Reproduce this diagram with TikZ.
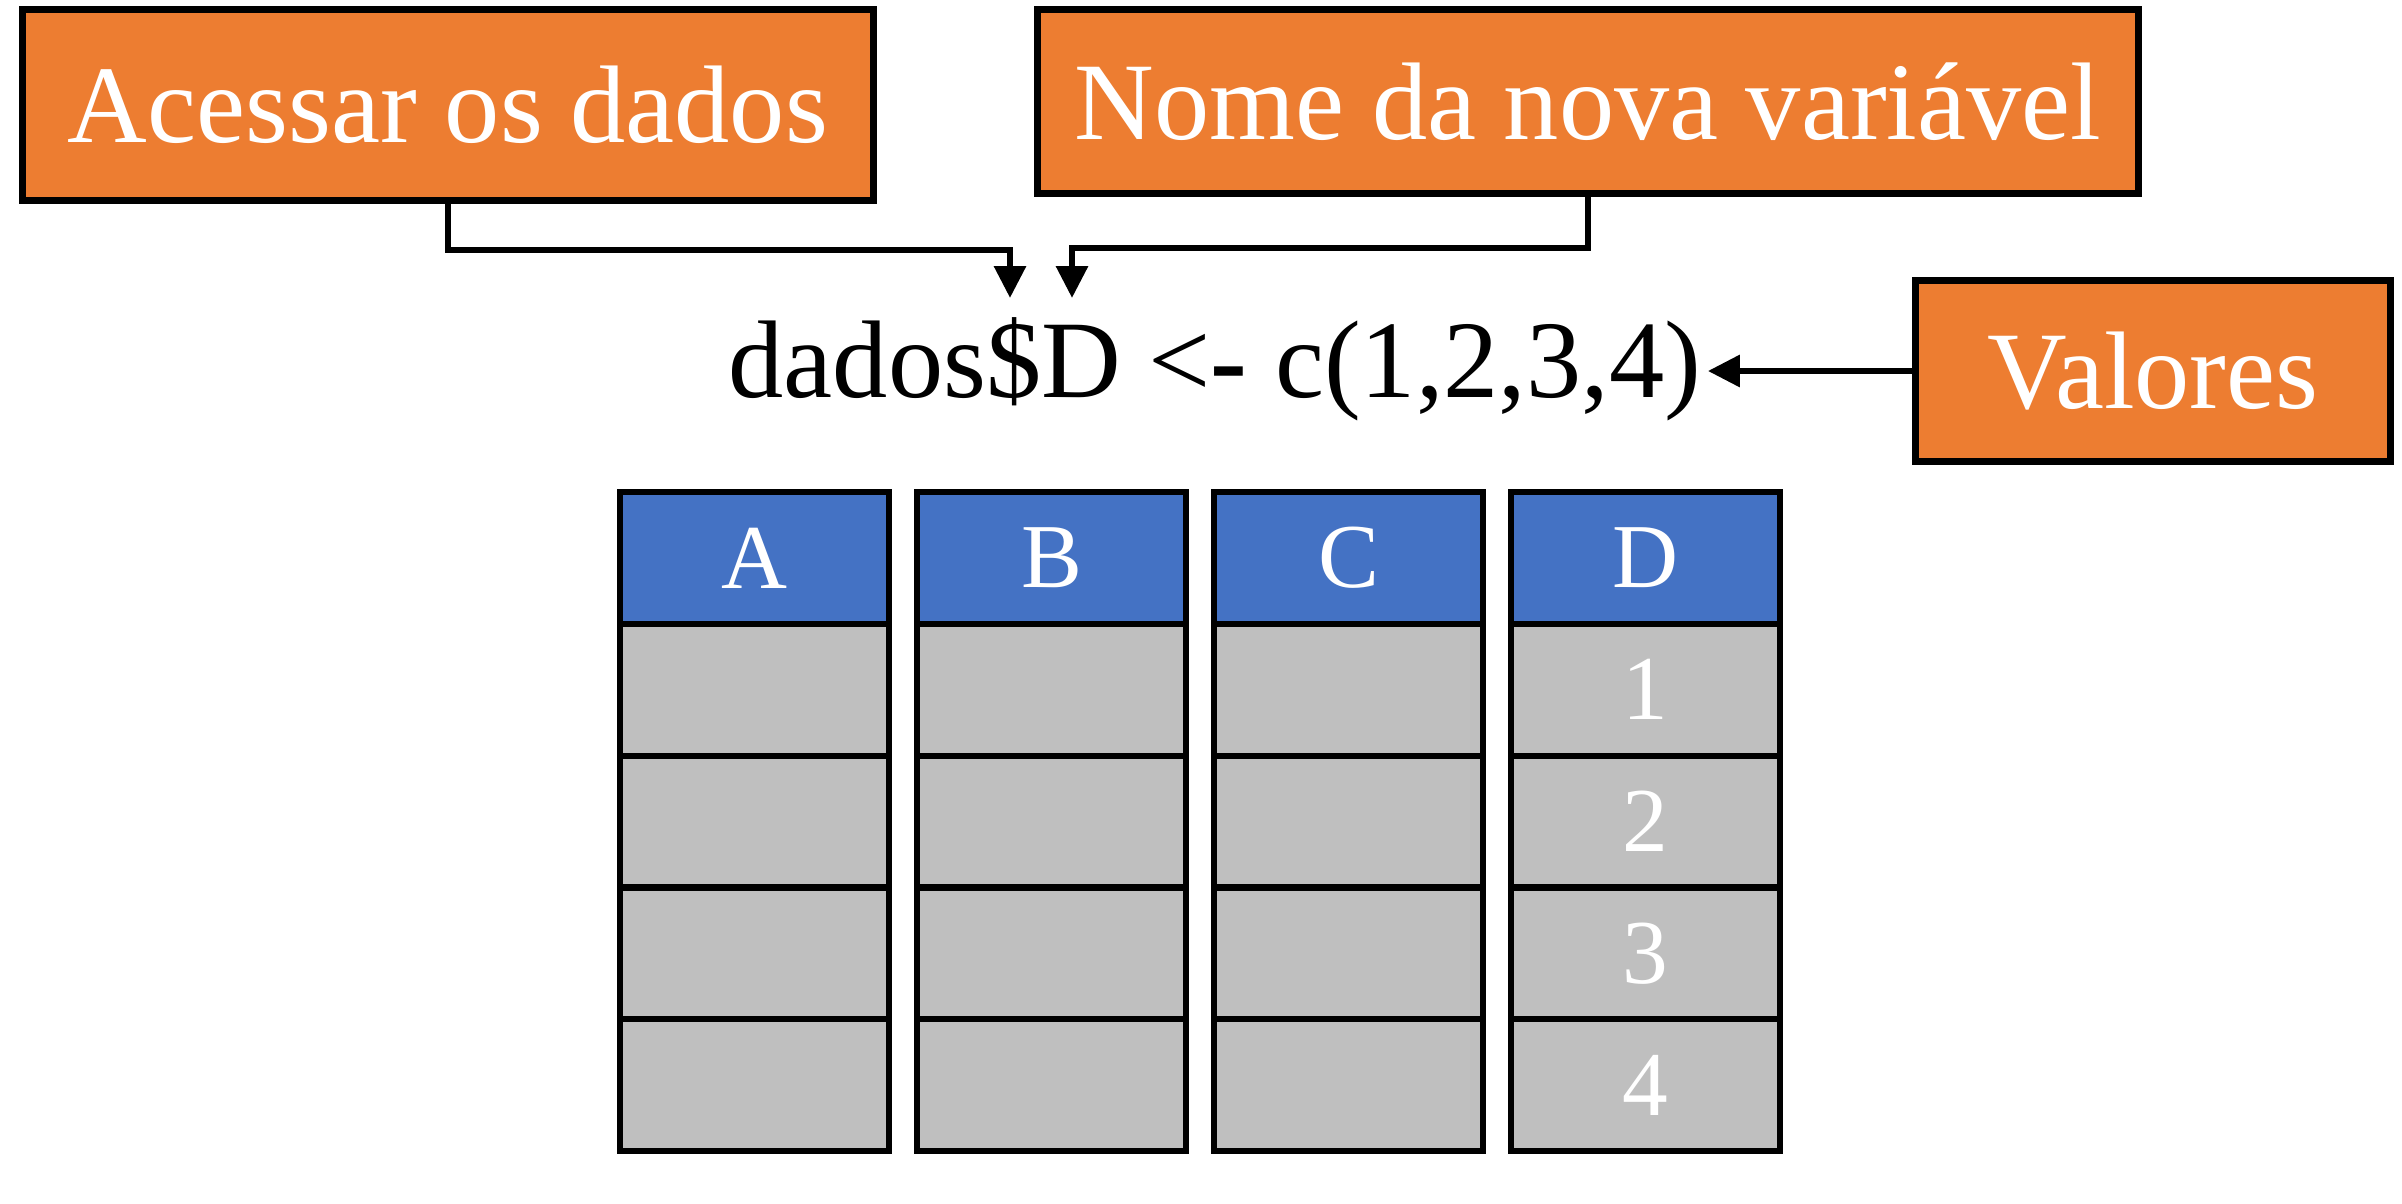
\documentclass[tikz,border=0pt]{standalone}
\usepackage{fontspec}
\setmainfont{Liberation Serif}
\usetikzlibrary{arrows.meta}
\definecolor{boxorange}{HTML}{ED7D31}
\definecolor{headblue}{HTML}{4472C4}
\definecolor{cellgray}{HTML}{BFBFBF}

\begin{document}
\begin{tikzpicture}[>={Triangle[length=3.2mm,width=3.1mm]},
  tag/.style={draw,fill=boxorange,line width=2.1pt,text=white,inner sep=0pt,
    font=\fontsize{31.4}{36}\selectfont},
  hcell/.style={draw,fill=headblue,line width=1.8pt,text=white,inner sep=0pt,
    minimum width=2.69cm,minimum height=1.318cm,font=\fontsize{26}{30}\selectfont},
  dcell/.style={hcell,fill=cellgray},
  arr/.style={->,line width=1.8pt}]
  \useasboundingbox (0,0) rectangle (24.02,-12.04);

  \node[tag,minimum width=8.51cm,minimum height=1.91cm]  (acc)  at (4.48,-1.05)  {Acessar os dados};
  \node[tag,minimum width=11.01cm,minimum height=1.84cm] (nova) at (15.88,-1.015) {Nome da nova variável};
  \node[tag,minimum width=4.75cm,minimum height=1.81cm]  (val)  at (21.53,-3.71) {Valores};

  \node[font=\fontsize{31.4}{36}\selectfont,inner xsep=0.06cm,inner ysep=0pt,anchor=base west]
    (code) at (7.22,-3.97) {dados\$D <\textbf{-} c(1,2,3,4)};
  \coordinate (tipDol) at (10.10,-2.98);
  \coordinate (tipD)   at (10.72,-2.98);

  % table
  \foreach \col [count=\i from 0] in {A,B,C,D} {
    \node[hcell] (h\col) at ({7.545+2.97*\i},-5.58) {\col};
    \foreach \r in {1,...,4}
      \node[dcell] (c\col\r) at ({7.545+2.97*\i},{-5.58-1.318*\r}) {\ifnum\i=3 \r\fi};
  }

  \draw[arr] (acc.south)  -- (acc.south |- 0,-2.50)  -| (tipDol);
  \draw[arr] (nova.south) -- (nova.south |- 0,-2.48) -| (tipD);
  \draw[arr] (val.west) -- (val.west -| code.east);
\end{tikzpicture}
\end{document}
